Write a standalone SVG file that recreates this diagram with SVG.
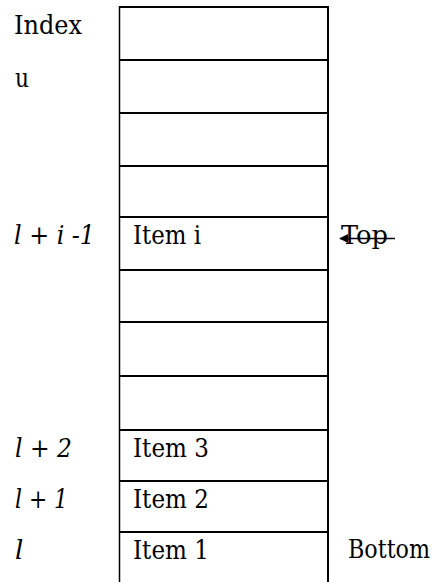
<svg xmlns="http://www.w3.org/2000/svg" width="435" height="582" viewBox="0 0 435 582">
<style>
text{font-family:'DejaVu Serif',serif;font-size:26px;fill:#000}
.it{font-style:italic}
.h{stroke:#000;stroke-width:2;fill:none}
.v{stroke:#000;fill:none}
</style>
<defs>
<marker id="ah" viewBox="0 0 10 10" refX="9" refY="5" markerWidth="11" markerHeight="9" markerUnits="userSpaceOnUse" orient="auto">
<path d="M0,0 L10,5 L0,10 Z" fill="#000"/>
</marker>
</defs>
<rect width="435" height="582" fill="#fff"/>
<g id="stack">
<line class="v" x1="119.5" y1="6" x2="119.5" y2="582" stroke-width="1.5"/>
<line class="v" x1="328" y1="6" x2="328" y2="582" stroke-width="2"/>
<line class="h" x1="119" y1="7" x2="329" y2="7"/>
<line class="h" x1="119" y1="60" x2="329" y2="60"/>
<line class="h" x1="119" y1="113" x2="329" y2="113"/>
<line class="h" x1="119" y1="166" x2="329" y2="166"/>
<line class="h" x1="119" y1="217" x2="329" y2="217"/>
<line class="h" x1="119" y1="270" x2="329" y2="270"/>
<line class="h" x1="119" y1="322" x2="329" y2="322"/>
<line class="h" x1="119" y1="376" x2="329" y2="376"/>
<line class="h" x1="119" y1="430" x2="329" y2="430"/>
<line class="h" x1="119" y1="481" x2="329" y2="481"/>
<line class="h" x1="119" y1="532" x2="329" y2="532"/>
</g>
<g id="index-header"><text x="14" y="34" textLength="68" lengthAdjust="spacingAndGlyphs">Index</text></g>
<g id="index-u"><text x="15" y="87" textLength="14" lengthAdjust="spacingAndGlyphs">u</text></g>
<g id="item-i">
<text x="14" y="244" class="it" textLength="81" lengthAdjust="spacingAndGlyphs">l + i -1</text>
<text x="133" y="244" textLength="68" lengthAdjust="spacingAndGlyphs">Item i</text>
</g>
<g id="top-label"><text x="341" y="244" textLength="47" lengthAdjust="spacingAndGlyphs">Top</text></g>
<g id="item-3">
<text x="15" y="457" class="it" textLength="57" lengthAdjust="spacingAndGlyphs">l + 2</text>
<text x="133" y="457" textLength="76" lengthAdjust="spacingAndGlyphs">Item 3</text>
</g>
<g id="item-2">
<text x="15" y="508" class="it" textLength="53" lengthAdjust="spacingAndGlyphs">l + 1</text>
<text x="133" y="508" textLength="76" lengthAdjust="spacingAndGlyphs">Item 2</text>
</g>
<g id="item-1">
<text x="15" y="559" class="it">l</text>
<text x="133" y="559" textLength="76" lengthAdjust="spacingAndGlyphs">Item 1</text>
</g>
<g id="bottom-label"><text x="348" y="558" textLength="82" lengthAdjust="spacingAndGlyphs">Bottom</text></g>
<g id="connectors">
<line x1="395" y1="238.5" x2="340" y2="238.5" stroke="#000" stroke-width="1.5" marker-end="url(#ah)"/>
</g>
</svg>
